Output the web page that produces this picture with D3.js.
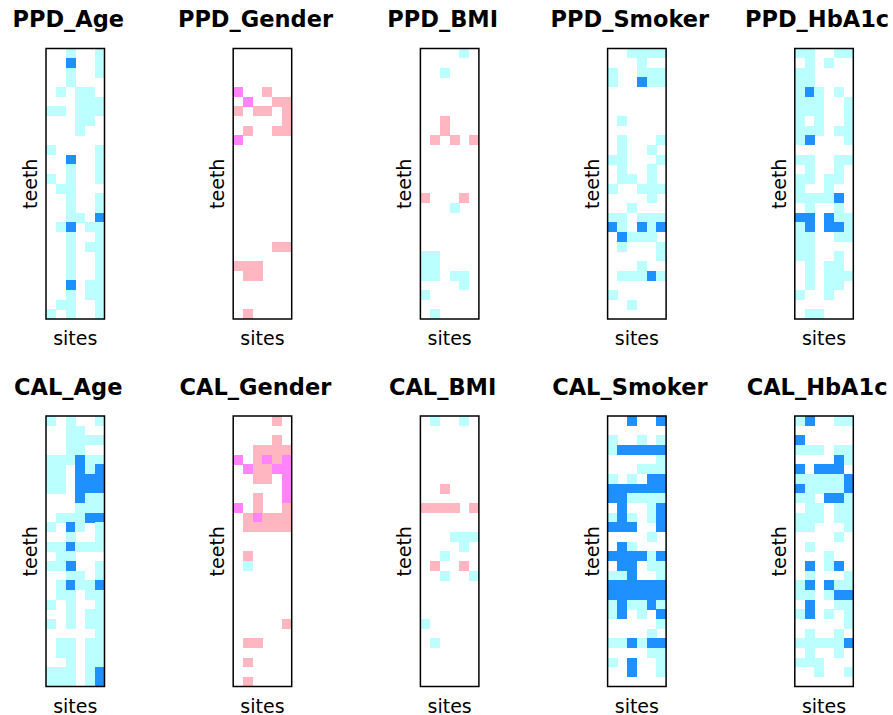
<!DOCTYPE html>
<html><head><meta charset="utf-8">
<script src="https://cdn.jsdelivr.net/npm/d3@7"></script>
<style>body{margin:0;background:#fff}svg{display:block}</style>
</head><body><svg id="c" width="893" height="715"></svg>
<script>
// ---- data ----
const sites = ["1","2","3","4","5","6"];
const teeth = ["1","2","3","4","5","6","7","8","9","10","11","12","13","14","15","16","17","18","19","20","21","22","23","24","25","26","27","28"];
// codes: 0 none, 1 positive, 2 strong positive, 3 negative, 4 strong negative
const levelCodes = [0,1,2,3,4];
const levelColors = ["#ffffff","#bbffff","#1e90ff","#ffb6c1","#ff83fa"];
const panelNames = ["PPD_Age","PPD_Gender","PPD_BMI","PPD_Smoker","PPD_HbA1c","CAL_Age","CAL_Gender","CAL_BMI","CAL_Smoker","CAL_HbA1c"];

const PPD_Age = [
"001001","002001","001001","001000","010110","000111","110111","000110","000100","000000",
"100001","002001","001001","101001","011000","001001","001001","001102","012011","001001",
"001011","001001","001001","001001","002011","001011","011001","101001"];
const PPD_Gender = [
"000000","000000","000000","000000","400300","040033","303303","000003","030033","400000",
"000000","000000","000000","000000","000000","000000","000000","000000","000000","000000",
"000033","000000","333000","033000","000000","000000","000000","030000"];
const PPD_BMI = [
"000010","000000","001000","000000","000000","000000","000000","003000","003000","030303",
"000000","000000","000000","000000","000000","300030","000100","000000","000000","000000",
"000000","110000","110000","110110","000010","100000","000000","010000"];
const PPD_Smoker = [
"001111","000100","100111","100211","000000","000000","000000","010000","000000","010001",
"010010","110001","010010","011010","100111","000010","001000","110111","210212","021110",
"010001","000001","000100","011121","000000","100000","001000","000000"];
const PPD_HbA1c = [
"110011","010100","110000","110000","121010","111001","111001","101001","111011","120001",
"000000","110011","010010","110110","100100","111120","010010","220211","120221","110011",
"110000","110010","010110","010111","010110","100100","000000","011000"];
const CAL_Age = [
"101001","001100","001111","001100","111211","110212","110222","110222","000211","000111",
"011122","102101","001001","112111","011000","112001","001101","012112","011011","101001",
"001011","101011","000001","011011","011011","001011","111012","111012"];
const CAL_Gender = [
"000030","000000","000030","003333","403434","043344","003304","000004","003004","403003",
"034333","033333","000000","000000","030000","010000","000000","000000","000000","000000",
"000000","000003","000000","033000","000000","030000","000000","030000"];
const CAL_BMI = [
"010010","000000","000000","000000","000000","000000","000000","003000","000000","333303",
"000000","000000","000111","000010","001000","030030","001001","000000","000000","000000",
"000000","100000","000000","010000","000000","000000","000000","000000"];
const CAL_Smoker = [
"002002","000000","100101","122222","000001","000111","101022","222222","221111","020012",
"121012","222002","000010","021000","222212","022011","112001","222222","222222","121121",
"120102","000001","000010","112122","000011","102001","002001","000000"];
const CAL_HbA1c = [
"120011","000000","200000","111011","000021","202220","111112","211112","110221","011011",
"111011","110001","000010","010000","000100","020120","010001","120211","110122","020011",
"120101","000001","010010","111112","010010","111000","001001","000000"];

const panelData = [PPD_Age,PPD_Gender,PPD_BMI,PPD_Smoker,PPD_HbA1c,CAL_Age,CAL_Gender,CAL_BMI,CAL_Smoker,CAL_HbA1c];

// ---- layout ----
const svg = d3.select("#c");
const boxW = 58.5, boxH = 270.5;
const colLeft = j => 46 + j * 187.2;
const rowTop = i => i === 0 ? 48.5 : 416;
const FONT = "DejaVu Sans, Verdana, sans-serif";

const color = d3.scaleOrdinal().domain(levelCodes).range(levelColors);
const x = d3.scaleBand().domain(sites).range([0, boxW]).padding(0);
const y = d3.scaleBand().domain(teeth).range([0, boxH]).padding(0);

panelNames.forEach((name, k) => {
  const r = Math.floor(k / 5), c = k % 5;
  const g = svg.append("g").attr("transform", `translate(${colLeft(c)},${rowTop(r)})`);
  const cells = [];
  panelData[k].forEach((row, ti) => {
    row.split("").forEach((ch, si) => cells.push({t: teeth[ti], s: sites[si], v: +ch}));
  });
  g.selectAll("rect.cell").data(cells.filter(d => d.v !== 0)).join("rect")
    .attr("class", "cell")
    .attr("x", d => x(d.s)).attr("y", d => y(d.t))
    .attr("width", x.bandwidth() + 0.3).attr("height", y.bandwidth() + 0.3)
    .attr("fill", d => color(d.v))
    .attr("shape-rendering", "crispEdges");
  g.append("rect").attr("x", 0).attr("y", 0).attr("width", boxW).attr("height", boxH)
    .attr("fill", "none").attr("stroke", "#000").attr("stroke-width", 1.5);
  g.append("text").attr("x", boxW / 2 - 7).attr("y", -21.5)
    .attr("text-anchor", "middle").attr("font-family", FONT)
    .attr("font-weight", "bold").attr("font-size", 22.5).text(name);
  g.append("text").attr("x", boxW / 2).attr("y", boxH + 26)
    .attr("text-anchor", "middle").attr("font-family", FONT)
    .attr("font-size", 19).text("sites");
  g.append("text").attr("transform", `translate(-9,${boxH / 2}) rotate(-90)`)
    .attr("text-anchor", "middle").attr("font-family", FONT)
    .attr("font-size", 19).text("teeth");
});
</script></body></html>
